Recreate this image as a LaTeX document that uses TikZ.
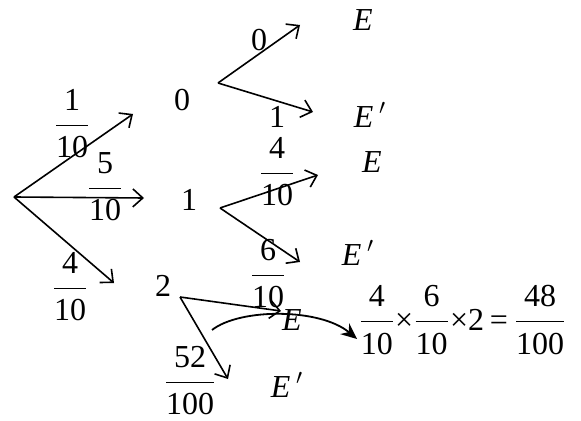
\documentclass[tikz,border=0pt]{standalone}
\usepackage{amsmath}
\usepackage{fontspec}
\setmainfont{Liberation Serif}
\usetikzlibrary{arrows.meta}
\newcommand{\fr}[2]{\dfrac{\text{#1}}{\text{#2}}}
\begin{document}
\begin{tikzpicture}[x=0.5pt,y=-0.5pt,
  every node/.style={font=\fontsize{16}{19}\selectfont, inner sep=0pt},
  br/.style={line width=0.8pt, -{Straight Barb[length=5pt,width=9pt,line width=0.8pt]}},
  cur/.style={line width=0.9pt, -{Stealth[length=8pt,width=7pt]}}]
\useasboundingbox (0,0) rectangle (581,421);
% first level
\coordinate (r) at (14,197);
\coordinate (t0) at (133,114);
\coordinate (t1) at (144,198);
\coordinate (t2) at (114,283);
\node (n0) at (182,100) {0};
\node (n1) at (189,200) {1};
\node (n2) at (163,286) {2};
\draw[br] (r) -- (t0);
\draw[br] (r) -- (t1);
\draw[br] (r) -- (t2);
\node (f1) at (72,124) {$\fr{1}{10}$};
\node (f5) at (105,187) {$\fr{5}{10}$};
\node (f4) at (70,287) {$\fr{4}{10}$};
% top subtree
\coordinate (a0) at (218,83);
\coordinate (a0e) at (300,25);
\coordinate (a0f) at (313,112);
\draw[br] (a0) -- (a0e);
\draw[br] (a0) -- (a0f);
\node (l00) at (259,40) {0};
\node (l01) at (277,117) {1};
\node (e0) at (363,20) {\textit{E}};
\node (e0p) at (370,115) {\textit{E}$\,'$};
% middle subtree
\coordinate (a1) at (220,208);
\coordinate (a1e) at (318,175);
\coordinate (a1f) at (300,262);
\draw[br] (a1) -- (a1e);
\draw[br] (a1) -- (a1f);
\node (f14) at (277,172) {$\fr{4}{10}$};
\node (f16) at (268,274) {$\fr{6}{10}$};
\node (e1) at (372,162) {\textit{E}};
\node (e1p) at (358,253) {\textit{E}$\,'$};
% bottom subtree
\coordinate (a2) at (180,297);
\coordinate (a2e) at (281,311);
\coordinate (a2f) at (228,379);
\draw[br] (a2) -- (a2e);
\draw[br] (a2) -- (a2f);
\node (e2) at (292,320) {\textit{E}};
\node (e2p) at (287,385) {\textit{E}$\,'$};
\node (f52) at (190,381) {$\fr{52}{100}$};
% result
\node[anchor=west] (res) at (358,320) {$\fr{4}{10}\text{×}\fr{6}{10}\text{×}\text{2}\,\text{=}\,\fr{48}{100}$};
\coordinate (cs) at (212,330);
\coordinate (ce) at (357,339);
\draw[cur] (cs) .. controls (240,308) and (320,308) .. (ce);
\end{tikzpicture}
\end{document}
